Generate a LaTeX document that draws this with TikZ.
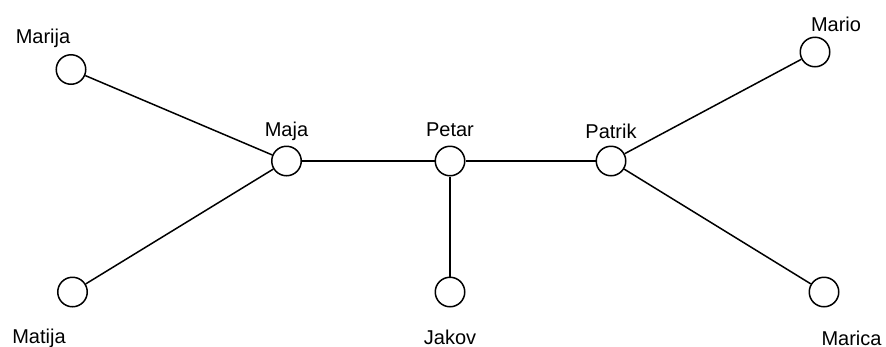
\documentclass[tikz,border=0pt]{standalone}
\usepackage{fontspec}
\setmainfont{Liberation Sans}
\begin{document}
\begin{tikzpicture}[x=1pt,y=-1pt,
  person/.style={circle,draw,line width=1.5pt,minimum size=29.5pt,inner sep=0pt,fill=white},
  lbl/.style={inner sep=0pt,font=\fontsize{20}{24}\selectfont},
  edge/.style={line width=1.5pt}]
\useasboundingbox (0,0) rectangle (886,346);
\node[person] (marija) at (71,69.5) {};
\node[person] (maja) at (286.5,161) {};
\node[person] (petar) at (450,161) {};
\node[person] (patrik) at (611,161) {};
\node[person] (mario) at (815,52) {};
\node[person] (matija) at (72.5,292) {};
\node[person] (jakov) at (450,292) {};
\node[person] (marica) at (824,292) {};
\node[lbl] (tmarija) at (43,38) {Marija};
\node[lbl] (tmaja) at (286.5,131) {Maja};
\node[lbl] (tpetar) at (450,130) {Petar};
\node[lbl] (tpatrik) at (611,131) {Patrik};
\node[lbl] (tmario) at (836,24) {Mario};
\node[lbl] (tmatija) at (39,338) {Matija};
\node[lbl] (tjakov) at (450,337) {Jakov};
\node[lbl] (tmarica) at (851.5,338) {Marica};
\draw[edge] (maja) -- (marija);
\draw[edge] (maja) -- (matija);
\draw[edge] (maja) -- (petar);
\draw[edge] (petar) -- (jakov);
\draw[edge] (petar) -- (patrik);
\draw[edge] (patrik) -- (mario);
\draw[edge] (patrik) -- (marica);
\end{tikzpicture}
\end{document}
